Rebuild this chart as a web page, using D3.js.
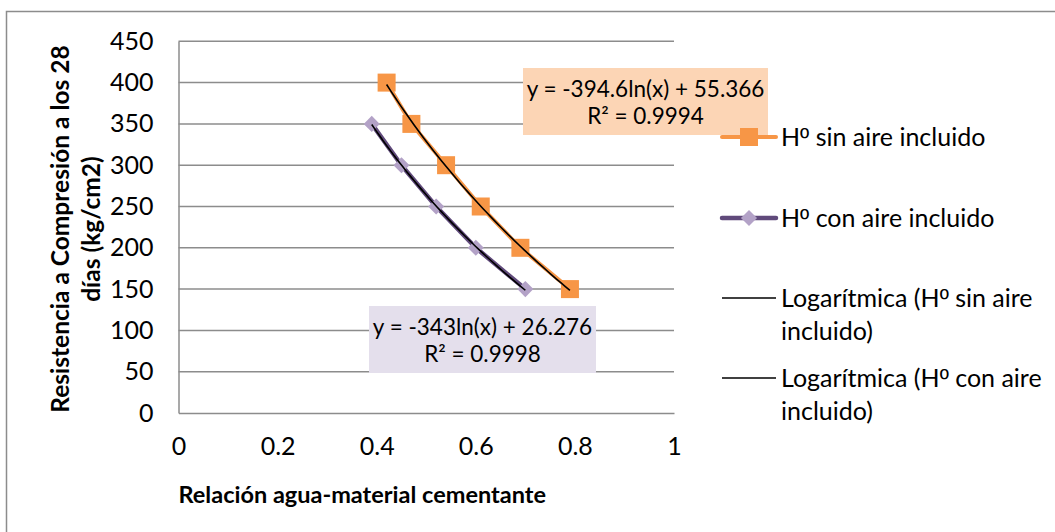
<!DOCTYPE html>
<html>
<head>
<meta charset="utf-8">
<script src="https://cdn.jsdelivr.net/npm/d3@7"></script>
<style>
  html, body { margin: 0; padding: 0; background: #fff; }
  svg { display: block; font-family: Lato, "Open Sans", sans-serif; }
</style>
</head>
<body>
<svg id="chart" width="1055" height="532"></svg>
<script>
// Water-cement ratio vs 28-day compressive strength
const wcSinAire  = [0.42, 0.47, 0.54, 0.61, 0.69, 0.79];
const resSinAire = [400, 350, 300, 250, 200, 150];
const wcConAire  = [0.39, 0.45, 0.52, 0.60, 0.70];
const resConAire = [350, 300, 250, 200, 150];

// Logarithmic fits y = a*ln(x) + b, as printed on the chart
const fitSinAire = { a: -394.6, b: 55.366, r2: "0.9994" };
const fitConAire = { a: -343,   b: 26.276, r2: "0.9998" };

const xTicks = [0, 0.2, 0.4, 0.6, 0.8, 1];
const yTicks = [0, 50, 100, 150, 200, 250, 300, 350, 400, 450];

const seriesNames = ["sin aire incluido", "con aire incluido"];
const trendNames = [["sin aire", "incluido)"], ["con aire", "incluido)"]];

const svg = d3.select("#chart");
const FS = 25;

// outer chart frame
svg.append("rect").attr("x", 6.5).attr("y", 11.5).attr("width", 1100).attr("height", 600)
  .attr("fill", "#fff").attr("stroke", "#8c8c8c").attr("stroke-width", 1.5);

const x = d3.scaleLinear().domain([0, 1]).range([178.5, 674]);
const y = d3.scaleLinear().domain([0, 450]).range([413, 41.3]);

// horizontal gridlines
svg.append("g").selectAll("line").data(yTicks.filter(d => d > 0)).join("line")
  .attr("x1", x(0)).attr("x2", x(1))
  .attr("y1", d => y(d)).attr("y2", d => y(d))
  .attr("stroke", "#8c8c8c").attr("stroke-width", 1.5);

// axes
const yAxis = d3.axisLeft(y).tickValues(yTicks).tickSize(0).tickPadding(25).tickFormat(d3.format("d"));
const gy = svg.append("g").attr("transform", `translate(${x(0)},0)`).call(yAxis);
gy.select(".domain").attr("stroke", "#8c8c8c").attr("stroke-width", 1.5);
gy.selectAll("text").attr("font-size", FS).attr("fill", "#000").attr("font-family", "Lato");

const xAxis = d3.axisBottom(x).tickValues(xTicks).tickSize(0).tickPadding(24).tickFormat(d => d === 0 || d === 1 ? d3.format("d")(d) : d3.format(".1f")(d));
const gx = svg.append("g").attr("transform", `translate(0,${y(0)})`).call(xAxis);
gx.select(".domain").attr("stroke", "#8c8c8c").attr("stroke-width", 1.5);
gx.selectAll("text").attr("font-size", FS).attr("fill", "#000").attr("font-family", "Lato");

// axis titles
svg.append("text").attr("x", x(0)).attr("y", 503)
  .attr("font-size", 23.5).attr("font-weight", "bold")
  .text("Relación agua-material cementante");

const yt = svg.append("text").attr("transform", "translate(69,229) rotate(-90)")
  .attr("font-size", 24.5).attr("font-weight", "bold").attr("text-anchor", "middle");
yt.append("tspan").attr("x", 0).attr("y", 0).text("Resistencia a Compresión a los 28");
yt.append("tspan").attr("x", 0).attr("y", 31).text("días (kg/cm2)");

const line = d3.line().x(d => x(d[0])).y(d => y(d[1]));

function trend(fit, xs) {
  const lo = d3.min(xs), hi = d3.max(xs);
  return d3.range(0, 41).map(i => {
    const v = lo + (hi - lo) * i / 40;
    return [v, fit.a * Math.log(v) + fit.b];
  });
}

// series lines
const sinPts = wcSinAire.map((v, i) => [v, resSinAire[i]]);
const conPts = wcConAire.map((v, i) => [v, resConAire[i]]);

svg.append("path").datum(sinPts).attr("d", line)
  .attr("fill", "none").attr("stroke", "#F79646").attr("stroke-width", 4).attr("stroke-linejoin", "round").attr("stroke-linecap", "round");
svg.append("path").datum(conPts).attr("d", line)
  .attr("fill", "none").attr("stroke", "#604A7B").attr("stroke-width", 4.5).attr("stroke-linejoin", "round").attr("stroke-linecap", "round");

// markers
svg.append("g").selectAll("rect").data(sinPts).join("rect")
  .attr("x", d => x(d[0]) - 9).attr("y", d => y(d[1]) - 9)
  .attr("width", 18).attr("height", 18).attr("fill", "#F79646");
const diamond = d3.symbol().type(d3.symbolDiamond2).size(165);
svg.append("g").selectAll("path").data(conPts).join("path")
  .attr("transform", d => `translate(${x(d[0])},${y(d[1])})`)
  .attr("d", diamond).attr("fill", "#B3A2C7");

// trendlines
svg.append("path").datum(trend(fitSinAire, wcSinAire)).attr("d", line)
  .attr("fill", "none").attr("stroke", "#000").attr("stroke-width", 1.6);
svg.append("path").datum(trend(fitConAire, wcConAire)).attr("d", line)
  .attr("fill", "none").attr("stroke", "#000").attr("stroke-width", 1.6);

// equation labels
function eqLabel(fit, box, fill) {
  svg.append("rect").attr("x", box[0]).attr("y", box[1]).attr("width", box[2]).attr("height", box[3]).attr("fill", fill);
  const cx = box[0] + box[2] / 2;
  const t = svg.append("text").attr("text-anchor", "middle").attr("font-size", 22.5);
  t.append("tspan").attr("x", cx).attr("y", box[1] + 29).text(`y = ${fit.a}ln(x) + ${fit.b}`);
  t.append("tspan").attr("x", cx).attr("y", box[1] + 56).text(`R² = ${fit.r2}`);
}
eqLabel(fitSinAire, [523, 68, 245, 67], "#FCD5B5");
eqLabel(fitConAire, [369, 306, 227, 67], "#E4DFEC");

// "Hº" prefix with an underlined ordinal indicator
function hGrado(t) {
  t.append("tspan").text("H");
  t.append("tspan").attr("font-family", "Liberation Sans").text("º");
}

// legend
const lg = svg.append("g");
const lx1 = 722, lx2 = 776, tx = 781;
const rows = [137, 218, 298, 378];
lg.append("line").attr("x1", lx1).attr("x2", lx2).attr("y1", rows[0]).attr("y2", rows[0])
  .attr("stroke", "#F79646").attr("stroke-width", 4).attr("stroke-linecap", "round");
lg.append("rect").attr("x", (lx1 + lx2) / 2 - 9).attr("y", rows[0] - 9).attr("width", 18).attr("height", 18).attr("fill", "#F79646");
lg.append("line").attr("x1", lx1).attr("x2", lx2).attr("y1", rows[1]).attr("y2", rows[1])
  .attr("stroke", "#604A7B").attr("stroke-width", 4.5).attr("stroke-linecap", "round");
lg.append("path").attr("transform", `translate(${(lx1 + lx2) / 2},${rows[1]})`).attr("d", diamond).attr("fill", "#B3A2C7");
[2, 3].forEach(i => {
  lg.append("line").attr("x1", lx1).attr("x2", lx2).attr("y1", rows[i]).attr("y2", rows[i])
    .attr("stroke", "#000").attr("stroke-width", 1.6);
});
seriesNames.forEach((s, i) => {
  const t = lg.append("text").attr("x", tx).attr("y", rows[i]).attr("dy", "0.35em").attr("font-size", FS);
  hGrado(t);
  t.append("tspan").text(" " + s);
});
trendNames.forEach((pair, i) => {
  const t = lg.append("text").attr("x", tx).attr("y", rows[i + 2]).attr("dy", "0.35em").attr("font-size", FS);
  t.append("tspan").text("Logarítmica (");
  hGrado(t);
  t.append("tspan").text(" " + pair[0]);
  t.append("tspan").attr("x", tx).attr("y", rows[i + 2] + 33).attr("dy", "0.35em").text(pair[1]);
});
</script>
</body>
</html>
